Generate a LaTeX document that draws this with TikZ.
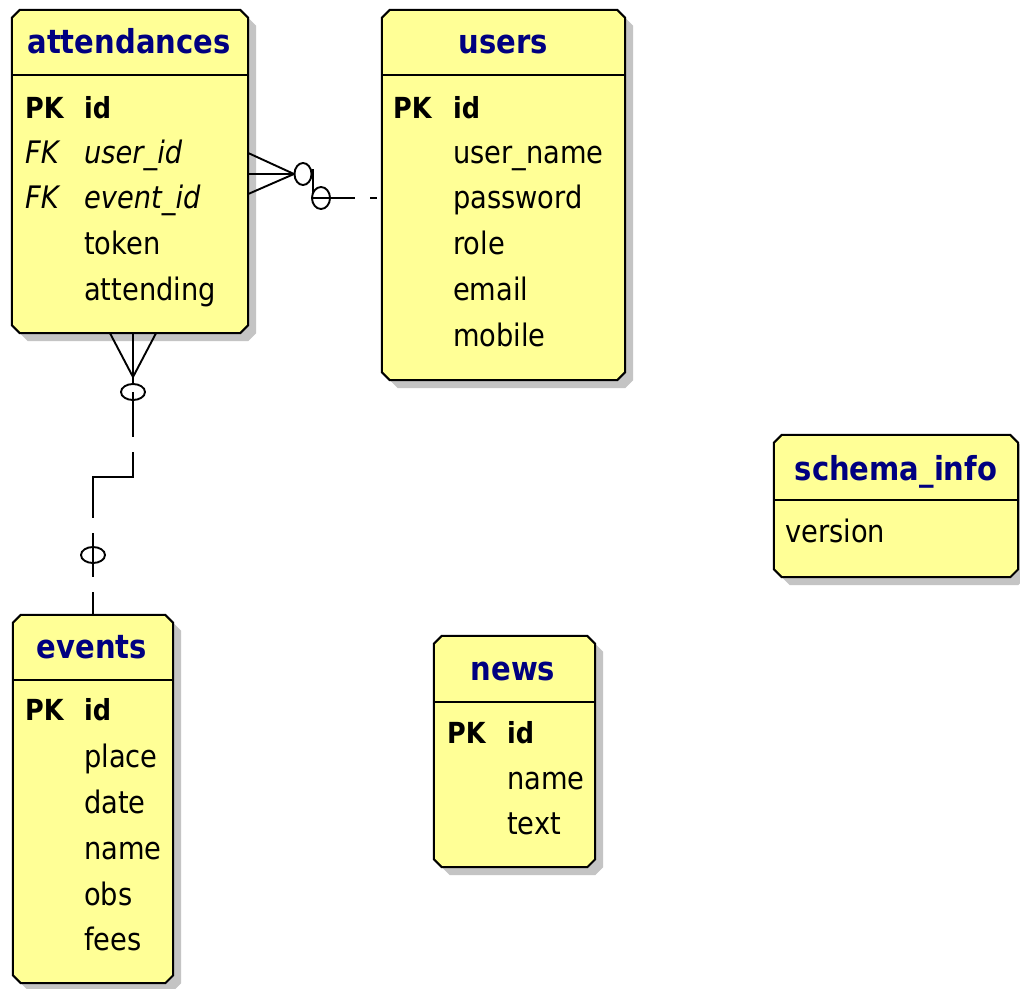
\documentclass[tikz,border=0pt]{standalone}
\usepackage{fontspec}
\setmainfont{DejaVu Sans}[FakeStretch=0.88]
\definecolor{tblfill}{RGB}{255,255,150}
\definecolor{tbltitle}{RGB}{0,0,128}
\definecolor{tblshadow}{RGB}{196,196,196}
\tikzset{
  tblarea/.style={rectangle, inner sep=0pt},
  tbody/.style={draw=black, line width=2pt, fill=tblfill, line join=miter},
  ttl/.style={anchor=base, inner sep=0pt, text=tbltitle,
    font=\fontsize{33}{36}\selectfont\bfseries},
  fld/.style={anchor=base west, inner sep=0pt, font=\fontsize{31}{34}\selectfont},
  key/.style={anchor=base west, inner sep=0pt, font=\fontsize{29}{34}\selectfont\bfseries},
  fk/.style={anchor=base west, inner sep=0pt, font=\fontsize{31}{34}\selectfont\itshape},
  sep/.style={line width=1.8pt},
  rel/.style={line width=1.9pt},
  opt/.style={line width=1.9pt, fill=white},
}
% chamfered outline of a table node, drawn with its drop shadow first
\newcommand\tablebox[1]{%
  \fill[tblshadow]
    ([shift={(16pt,-8pt)}]#1.north west) -- ([shift={(0pt,-8pt)}]#1.north east)
    -- ([shift={(8pt,-16pt)}]#1.north east) -- ([shift={(8pt,0pt)}]#1.south east)
    -- ([shift={(0pt,-8pt)}]#1.south east) -- ([shift={(16pt,-8pt)}]#1.south west)
    -- ([shift={(8pt,0pt)}]#1.south west) -- ([shift={(8pt,-16pt)}]#1.north west) -- cycle;
  \draw[tbody]
    ([shift={(8pt,0pt)}]#1.north west) -- ([shift={(-8pt,0pt)}]#1.north east)
    -- ([shift={(0pt,-8pt)}]#1.north east) -- ([shift={(0pt,8pt)}]#1.south east)
    -- ([shift={(-8pt,0pt)}]#1.south east) -- ([shift={(8pt,0pt)}]#1.south west)
    -- ([shift={(0pt,8pt)}]#1.south west) -- ([shift={(0pt,-8pt)}]#1.north west) -- cycle;
}
\begin{document}
\begin{tikzpicture}[x=1pt, y=-1pt]
\useasboundingbox[fill=white] (0,0) rectangle (1020,988);

% ---------- tables ----------
\node[tblarea, minimum width=236pt, minimum height=323pt] (att) at (130,171.5) {};
\node[tblarea, minimum width=243pt, minimum height=370pt] (usr) at (503.5,195) {};
\node[tblarea, minimum width=244pt, minimum height=142pt] (sch) at (896,506) {};
\node[tblarea, minimum width=160pt, minimum height=368pt] (evt) at (93,799) {};
\node[tblarea, minimum width=161pt, minimum height=231pt] (nws) at (514.5,751.5) {};
\tablebox{att}
\tablebox{usr}
\tablebox{sch}
\tablebox{evt}
\tablebox{nws}

% header separators
\draw[sep] (att.west |- 0,75)  -- (att.east |- 0,75);
\draw[sep] (usr.west |- 0,75)  -- (usr.east |- 0,75);
\draw[sep] (sch.west |- 0,500) -- (sch.east |- 0,500);
\draw[sep] (evt.west |- 0,680) -- (evt.east |- 0,680);
\draw[sep] (nws.west |- 0,702) -- (nws.east |- 0,702);

% titles
\node[ttl] (attT) at (129,53)  {attendances};
\node[ttl] (usrT) at (503,53)  {users};
\node[ttl] (schT) at (896,480) {schema\_info};
\node[ttl] (evtT) at (92,658)  {events};
\node[ttl] (nwsT) at (513,680) {news};

% attendances columns
\node[key] (attK1) at (25,118)  {PK};
\node[key] (attF1) at (84,118)  {id};
\node[fk]  (attK2) at (25,163)  {FK};
\node[fk]  (attF2) at (84,163)  {user\_id};
\node[fk]  (attK3) at (25,208)  {FK};
\node[fk]  (attF3) at (84,208)  {event\_id};
\node[fld] (attF4) at (84,254)  {token};
\node[fld] (attF5) at (84,300)  {attending};

% users columns
\node[key] (usrK1) at (393,118) {PK};
\node[key] (usrF1) at (453,118) {id};
\node[fld] (usrF2) at (453,163) {user\_name};
\node[fld] (usrF3) at (453,208) {password};
\node[fld] (usrF4) at (453,254) {role};
\node[fld] (usrF5) at (453,300) {email};
\node[fld] (usrF6) at (453,346) {mobile};

% schema_info columns
\node[fld] (schF1) at (785,542) {version};

% events columns
\node[key] (evtK1) at (25,720)  {PK};
\node[key] (evtF1) at (84,720)  {id};
\node[fld] (evtF2) at (84,767)  {place};
\node[fld] (evtF3) at (84,813)  {date};
\node[fld] (evtF4) at (84,859)  {name};
\node[fld] (evtF5) at (84,905)  {obs};
\node[fld] (evtF6) at (84,950)  {fees};

% news columns
\node[key] (nwsK1) at (447,743) {PK};
\node[key] (nwsF1) at (507,743) {id};
\node[fld] (nwsF2) at (507,789) {name};
\node[fld] (nwsF3) at (507,834) {text};

% ---------- attendances >o--o- users ----------
\coordinate (cfU) at (294,174);
\coordinate (uEnd) at (377,198);
\draw[rel] (att.east |- 0,153) -- (cfU);
\draw[rel] (att.east |- 0,174) -- (cfU);
\draw[rel] (att.east |- 0,194) -- (cfU);
\draw[opt] (303,174) ellipse [x radius=8.5pt, y radius=11pt];
\draw[rel] (313,169) -- (313,198) -- (355,198);
\draw[opt] (321,198) ellipse [x radius=9pt, y radius=11pt];
\draw[rel] (313,198) -- (355,198);
\draw[rel] (370,198) -- (uEnd);

% ---------- attendances >o--o| events ----------
\coordinate (cfE) at (133,377);
\draw[rel] (att.south -| 110,0) -- (cfE);
\draw[rel] (att.south -| 156,0) -- (cfE);
\draw[rel] (att.south -| 133,0) -- (133,437);
\draw[opt] (133,392) ellipse [x radius=12pt, y radius=8pt];
\draw[rel] (133,392) -- (133,437);
\draw[rel] (133,452) -- (133,477) -- (93,477) -- (93,518);
\draw[opt] (93,555) ellipse [x radius=12pt, y radius=8pt];
\draw[rel] (93,533) -- (93,577);
\draw[rel] (93,592) -- (evt.north);
\end{tikzpicture}
\end{document}
